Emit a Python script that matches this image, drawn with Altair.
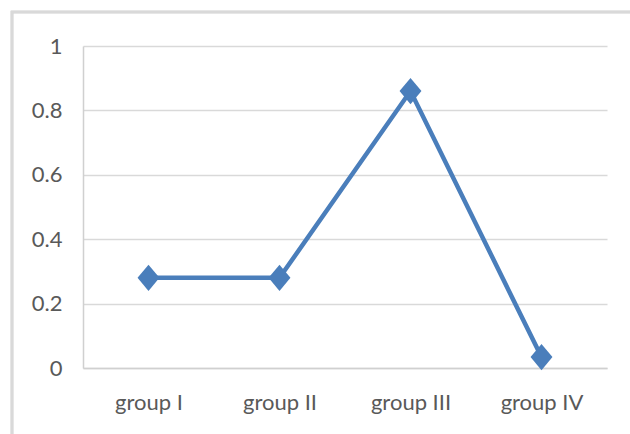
import altair as alt
import pandas as pd

groups = ["group I", "group II", "group III", "group IV"]
values = [0.28, 0.28, 0.86, 0.034]

df = pd.DataFrame({"group": groups, "value": values})

W, H = 524, 322
LEFT, TOP = 83, 46

base = alt.Chart(df)

border = base.mark_rect(fill=None, stroke="#d9d9d9", strokeWidth=2.5).encode(
    x=alt.value(12 - LEFT), x2=alt.value(700),
    y=alt.value(12 - TOP), y2=alt.value(500),
)

x_enc = alt.X("group:N", sort=groups,
              scale=alt.Scale(type="point", padding=0.5),
              axis=alt.Axis(title=None, labelAngle=0, ticks=False, domain=True,
                            domainColor="#d0d0d0", domainWidth=1.5,
                            labelPadding=24, grid=False))
y_enc = alt.Y("value:Q", scale=alt.Scale(domain=[0, 1], nice=False),
              axis=alt.Axis(title=None, values=[0, 0.2, 0.4, 0.6, 0.8, 1],
                            format="~g", ticks=False, domain=True,
                            domainColor="#d0d0d0", domainWidth=1.5,
                            gridColor="#d9d9d9", gridWidth=1.5,
                            labelPadding=21))

line = base.mark_line(color="#4a7ebb", strokeWidth=4.5).encode(x=x_enc, y=y_enc)
pts = base.mark_point(shape="M-1,0L0,-1.2L1,0L0,1.2Z", filled=True, opacity=1,
                      color="#4a7ebb", size=480).encode(x=x_enc, y=y_enc)

chart = alt.layer(border, line, pts).properties(
    width=W, height=H,
    autosize=alt.AutoSizeParams(type="none"),
    padding={"left": LEFT, "top": TOP, "right": 630 - LEFT - W, "bottom": 434 - TOP - H},
    background="white",
).configure_view(stroke=None).configure_axis(
    labelFont="Lato", labelFontSize=22, labelColor="#595959",
)

chart.save("out.html", embed_options={"renderer": "svg", "actions": False})
